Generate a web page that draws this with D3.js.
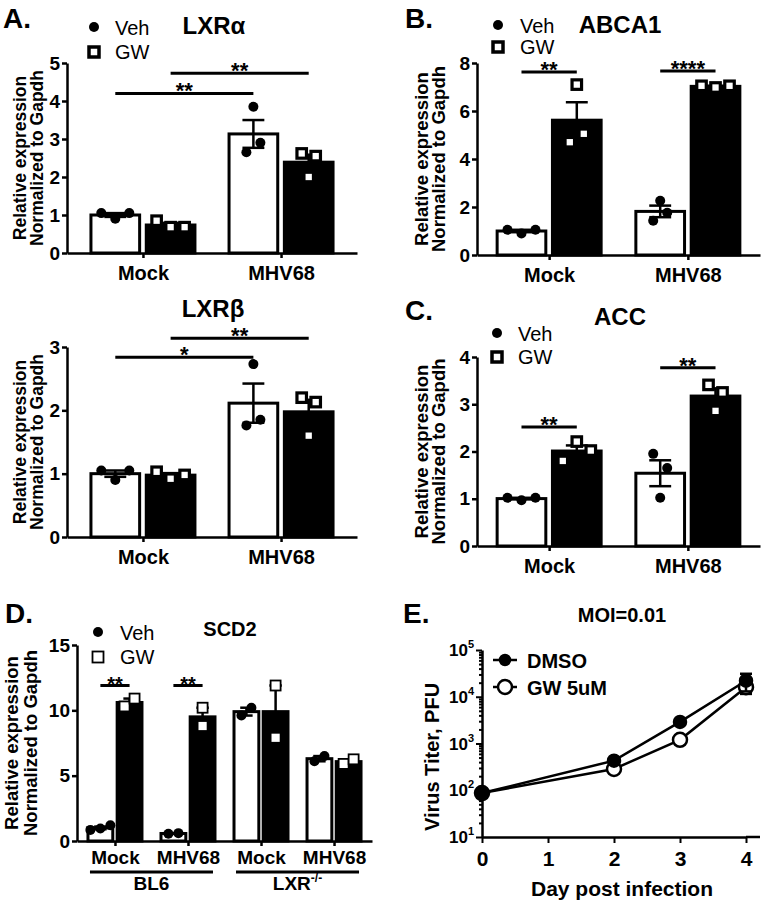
<!DOCTYPE html>
<html><head><meta charset="utf-8">
<script src="https://cdn.jsdelivr.net/npm/d3@7"></script>
<style>
body{margin:0;background:#fff}
svg{display:block}
text{font-family:"Liberation Sans",Arial,Helvetica,sans-serif;fill:#000}
</style>
</head><body>
<svg id="c" width="766" height="903"></svg>
<script>
// ---------------- DATA ----------------
const treatments = ["Veh", "GW"];
const groupLabels = ["Mock", "MHV68"];

// A. LXRα  (individual points per group: Mock, MHV68)
const lxraVeh = [[1.05, 0.9, 1.05], [3.85, 2.65, 2.9]];
const lxraGw  = [[0.85, 0.68, 0.68], [2.62, 2.55, 2.0]];
const lxraTicks = [0, 1, 2, 3, 4, 5];
const lxraSig = [
  {g1: 0, t1: "Veh", g2: 1, t2: "Veh", y: 4.2, label: "**"},
  {g1: 0, t1: "GW",  g2: 1, t2: "GW",  y: 4.73, label: "**"}
];

// LXRβ
const lxrbVeh = [[1.05, 0.9, 1.05], [2.73, 1.76, 1.85]];
const lxrbGw  = [[1.03, 0.92, 0.98], [2.2, 2.13, 1.6]];
const lxrbTicks = [0, 1, 2, 3];
const lxrbSig = [
  {g1: 0, t1: "Veh", g2: 1, t2: "Veh", y: 2.84, label: "*"},
  {g1: 0, t1: "GW",  g2: 1, t2: "GW",  y: 3.14, label: "**"}
];

// B. ABCA1
const abcaVeh = [[1.05, 0.9, 1.05], [2.26, 1.43, 1.76]];
const abcaGw  = [[7.1, 4.7, 5.05], [7.05, 6.98, 7.05]];
const abcaTicks = [0, 2, 4, 6, 8];
const abcaSig = [
  {g1: 0, t1: "Veh", g2: 0, t2: "GW", y: 7.63, label: "**"},
  {g1: 1, t1: "Veh", g2: 1, t2: "GW", y: 7.67, label: "****"}
];

// C. ACC
const accVeh = [[1.02, 0.97, 1.02], [1.95, 1.65, 1.02]];
const accGw  = [[1.8, 2.21, 2.02], [3.41, 3.25, 2.86]];
const accTicks = [0, 1, 2, 3, 4];
const accSig = [
  {g1: 0, t1: "Veh", g2: 0, t2: "GW", y: 2.52, label: "**"},
  {g1: 1, t1: "Veh", g2: 1, t2: "GW", y: 3.77, label: "**"}
];

// D. SCD2
const scd2Labels = ["Mock", "MHV68", "Mock", "MHV68"];
const scd2Strains = ["BL6", "LXR"];
const scd2Veh = [[0.85, 0.95, 1.2], [0.55, 0.6], [9.6, 10.2], [6.1, 6.5]];
const scd2Gw  = [[10.3, 10.9], [10.2, 8.8], [11.9, 7.9], [5.9, 6.25]];
const scd2Ticks = [0, 5, 10, 15];
const scd2Sig = [
  {g1: 0, t1: "Veh", g2: 0, t2: "GW", y: 11.9, label: "**"},
  {g1: 1, t1: "Veh", g2: 1, t2: "GW", y: 11.9, label: "**"}
];

// E. Virus titer
const days = [0, 2, 3, 4];
const dmsoTiter = [87, 430, 2900, 22000];
const dmsoSem   = [0, 0, 0, 9000];
const gwTiter   = [87, 285, 1200, 16000];
const gwSem     = [0, 0, 0, 4500];
const eYTicks = [1e1, 1e2, 1e3, 1e4, 1e5];
const eXTicks = [0, 1, 2, 3, 4];

// ---------------- DRAW ----------------
const svg = d3.select("#c");
const FONT = '"Liberation Sans",Arial,Helvetica,sans-serif';

function jitter(vals, y, thresh, step) {
  const idx = vals.map((v, i) => i).sort((a, b) => vals[a] - vals[b]);
  const clusters = []; let cur = [idx[0]];
  for (let k = 1; k < idx.length; k++) {
    if (Math.abs(y(vals[idx[k]]) - y(vals[idx[k - 1]])) < thresh) cur.push(idx[k]);
    else { clusters.push(cur); cur = [idx[k]]; }
  }
  clusters.push(cur);
  const off = vals.map(() => 0);
  clusters.forEach(c => { c.sort((a, b) => a - b); c.forEach((i, j) => off[i] = (j - (c.length - 1) / 2) * step); });
  return off;
}

function barPanel(o) {
  const g = svg.append("g");
  const y = d3.scaleLinear().domain([0, o.yMax]).range([o.y0, o.yTop]);
  const xg = d3.scalePoint().domain(d3.range(o.labels.length)).range([o.xL, o.xR]).padding(o.pad);
  const xt = d3.scaleBand().domain(treatments).range([-o.half, o.half]).paddingInner(o.inner);
  const bw = xt.bandwidth();
  const items = [];
  [["Veh", o.veh], ["GW", o.gw]].forEach(([t, arr]) => arr.forEach((pts, gi) => {
    const m = d3.mean(pts);
    const sem = d3.deviation(pts) / Math.sqrt(pts.length);
    items.push({t, gi, pts, m, sem, cx: xg(gi) + xt(t) + bw / 2});
  }));
  items.forEach(d => {
    g.append("rect").attr("x", d.cx - bw / 2).attr("y", y(d.m)).attr("width", bw)
      .attr("height", y(0) - y(d.m))
      .attr("fill", d.t === "Veh" ? "#fff" : "#000").attr("stroke", "#000").attr("stroke-width", o.barStroke);
  });
  items.forEach(d => {
    const cw = bw * o.cap;
    g.append("line").attr("x1", d.cx).attr("x2", d.cx).attr("y1", y(d.m - d.sem)).attr("y2", y(d.m + d.sem))
      .attr("stroke", "#000").attr("stroke-width", 2.5);
    [d.m - d.sem, d.m + d.sem].forEach(v => g.append("line").attr("x1", d.cx - cw / 2).attr("x2", d.cx + cw / 2)
      .attr("y1", y(v)).attr("y2", y(v)).attr("stroke", "#000").attr("stroke-width", 2.5));
  });
  items.forEach(d => {
    const off = jitter(d.pts, y, o.thresh, o.step);
    d.pts.forEach((v, i) => {
      if (d.t === "Veh") {
        g.append("circle").attr("cx", d.cx + off[i]).attr("cy", y(v)).attr("r", o.r).attr("fill", "#000");
      } else {
        g.append("rect").attr("x", d.cx + off[i] - o.sq / 2).attr("y", y(v) - o.sq / 2)
          .attr("width", o.sq).attr("height", o.sq).attr("fill", "#fff")
          .attr("stroke", "#000").attr("stroke-width", o.sqStroke);
      }
    });
  });
  const ya = g.append("g").attr("transform", `translate(${o.xL},0)`)
    .call(d3.axisLeft(y).tickValues(o.ticks).tickSize(5).tickSizeOuter(0).tickPadding(2).tickFormat(d3.format("d")));
  const xa = g.append("g").attr("transform", `translate(0,${o.y0})`)
    .call(d3.axisBottom(xg).tickSize(5).tickSizeOuter(0).tickPadding(o.xPad).tickFormat(i => o.labels[i]));
  [ya, xa].forEach(a => {
    a.select(".domain").attr("stroke-width", 2.5).attr("stroke", "#000");
    a.selectAll(".tick line").attr("stroke-width", 2.5).attr("stroke", "#000");
    a.selectAll("text").attr("font-family", FONT).attr("font-weight", "bold").attr("fill", "#000");
  });
  ya.selectAll("text").attr("font-size", o.tickFont);
  xa.selectAll("text").attr("font-size", o.xFont);
  const cy = (o.y0 + o.yTop) / 2;
  [["Relative expression", o.lab1], ["Normalized to Gapdh", o.lab2]].forEach(([s, x]) =>
    g.append("text").attr("transform", `translate(${x},${cy}) rotate(-90)`)
      .attr("text-anchor", "middle").attr("font-weight", "bold").attr("font-size", o.labFont).text(s));
  o.sig.forEach(s => {
    const x1 = xg(s.g1) + xt(s.t1) + bw / 2, x2 = xg(s.g2) + xt(s.t2) + bw / 2;
    g.append("line").attr("x1", x1).attr("x2", x2)
      .attr("y1", y(s.y)).attr("y2", y(s.y)).attr("stroke", "#000").attr("stroke-width", 3);
    g.append("text").attr("x", (x1 + x2) / 2).attr("y", y(s.y) + 5)
      .attr("text-anchor", "middle").attr("font-weight", "bold").attr("font-size", o.starFont).text(s.label);
  });
  g.append("text").attr("x", o.titleX).attr("y", o.titleY).attr("text-anchor", "middle")
    .attr("font-weight", "bold").attr("font-size", o.titleFont).text(o.title);
  if (o.letter) g.append("text").attr("x", o.letterX).attr("y", o.letterY).attr("font-weight", "bold")
    .attr("font-size", 28).text(o.letter);
  if (o.leg) {
    const L = o.leg;
    g.append("circle").attr("cx", L.x).attr("cy", L.y1).attr("r", L.r).attr("fill", "#000");
    g.append("rect").attr("x", L.x - L.sq / 2).attr("y", L.y2 - L.sq / 2).attr("width", L.sq).attr("height", L.sq)
      .attr("fill", "#fff").attr("stroke", "#000").attr("stroke-width", L.sw);
    g.append("text").attr("x", L.tx).attr("y", L.y1 + 8).attr("font-size", L.font).text("Veh");
    g.append("text").attr("x", L.tx).attr("y", L.y2 + 7).attr("font-size", L.font).text("GW");
  }
  return {g, y, xg, xt};
}

const common = {labels: groupLabels, pad: 0.55, half: 52, inner: 0.12, barStroke: 3, cap: 0.45,
  r: 5, sq: 9.5, sqStroke: 3.2, thresh: 11, step: 14, tickFont: 19, xFont: 20, labFont: 17.5, starFont: 22,
  titleFont: 24, xPad: 8};

barPanel(Object.assign({}, common, {
  veh: lxraVeh, gw: lxraGw, ticks: lxraTicks, sig: lxraSig, yMax: 5,
  xL: 67, xR: 357, y0: 253, yTop: 63, lab1: 26, lab2: 43,
  title: "LXRα", titleX: 214, titleY: 34, letter: "A.", letterX: 3, letterY: 28,
  leg: {x: 94, y1: 27, y2: 52, r: 5, sq: 10, sw: 3.5, tx: 115, font: 20}
}));
barPanel(Object.assign({}, common, {
  veh: lxrbVeh, gw: lxrbGw, ticks: lxrbTicks, sig: lxrbSig, yMax: 3,
  xL: 67, xR: 357, y0: 537, yTop: 347, lab1: 26, lab2: 43,
  title: "LXRβ", titleX: 213, titleY: 317, letter: ""
}));
barPanel(Object.assign({}, common, {
  veh: abcaVeh, gw: abcaGw, ticks: abcaTicks, sig: abcaSig, yMax: 8, pad: 0.52,
  xL: 477, xR: 760, y0: 255, yTop: 63, lab1: 428, lab2: 445, labFont: 18.5,
  title: "ABCA1", titleX: 620, titleY: 33, letter: "B.", letterX: 405, letterY: 28,
  leg: {x: 498, y1: 25, y2: 47, r: 5, sq: 10, sw: 3.5, tx: 520, font: 20}
}));
barPanel(Object.assign({}, common, {
  veh: accVeh, gw: accGw, ticks: accTicks, sig: accSig, yMax: 4, pad: 0.52, thresh: 15,
  xL: 477, xR: 760, y0: 546, yTop: 357, lab1: 428, lab2: 445, labFont: 18.5,
  title: "ACC", titleX: 620, titleY: 325, letter: "C.", letterX: 405, letterY: 320,
  leg: {x: 497, y1: 333, y2: 357, r: 5, sq: 10, sw: 3.5, tx: 518, font: 20}
}));
const dP = barPanel(Object.assign({}, common, {
  labels: scd2Labels, veh: scd2Veh, gw: scd2Gw, ticks: scd2Ticks, sig: scd2Sig, yMax: 15, pad: 0.52,
  half: 27, inner: 0.15, cap: 0.5, r: 5, sq: 10, sqStroke: 1.8, thresh: 11, step: 10, starFont: 20,
  xL: 77, xR: 372, y0: 841, yTop: 645, lab1: 18, lab2: 37, labFont: 18.5, xPad: 4.5, xFont: 19,
  title: "SCD2", titleX: 230, titleY: 636, titleFont: 20, letter: "D.", letterX: 5, letterY: 623,
  leg: {x: 98, y1: 632, y2: 657, r: 5, sq: 11, sw: 1.8, tx: 120, font: 20}
}));
scd2Strains.forEach((s, k) => {
  const xa = dP.xg(2 * k) - 25, xb = dP.xg(2 * k + 1) + 25;
  dP.g.append("line").attr("x1", xa).attr("x2", xb).attr("y1", 872).attr("y2", 872)
    .attr("stroke", "#000").attr("stroke-width", 3);
  const t = dP.g.append("text").attr("x", (xa + xb) / 2).attr("y", 890).attr("text-anchor", "middle")
    .attr("font-weight", "bold").attr("font-size", 19);
  t.append("tspan").text(s);
  if (s === "LXR") t.append("tspan").attr("font-size", 12).attr("dy", -8).text("-/-");
});

(function () {
  const g = svg.append("g");
  const x = d3.scaleLinear().domain([0, 4]).range([482, 746]);
  const y = d3.scaleLog().domain([10, 1e5]).range([837, 650]);
  const ya = g.append("g").attr("transform", "translate(482,0)")
    .call(d3.axisLeft(y).tickValues(y.ticks()).tickSize(3).tickSizeOuter(0).tickFormat(""));
  ya.selectAll(".tick").filter(d => eYTicks.includes(d)).select("line").attr("x2", -6);
  const xa = g.append("g").attr("transform", "translate(0,837)")
    .call(d3.axisBottom(x).tickValues(eXTicks).tickSize(6).tickSizeOuter(0).tickPadding(8).tickFormat(d3.format("d")));
  g.append("line").attr("x1", 746).attr("x2", 760).attr("y1", 837).attr("y2", 837).attr("stroke", "#000").attr("stroke-width", 2.5);
  [ya, xa].forEach(a => {
    a.select(".domain").attr("stroke-width", 2.5).attr("stroke", "#000");
    a.selectAll(".tick line").attr("stroke-width", 2).attr("stroke", "#000");
  });
  xa.selectAll("text").attr("font-family", FONT).attr("font-weight", "bold").attr("font-size", 21).attr("fill", "#000");
  eYTicks.forEach(v => {
    const t = g.append("text").attr("x", 474).attr("y", y(v) + 6).attr("text-anchor", "end")
      .attr("font-weight", "bold").attr("font-size", 17);
    t.append("tspan").text("10");
    t.append("tspan").attr("font-size", 11).attr("dy", -8).text(Math.log10(v));
  });
  const line = d3.line().x((d, i) => x(days[i])).y(d => y(d));
  const series = [
    {vals: gwTiter, sem: gwSem, fill: "#fff", r: 7},
    {vals: dmsoTiter, sem: dmsoSem, fill: "#000", r: 6}
  ];
  series.forEach(s => g.append("path").attr("d", line(s.vals)).attr("fill", "none")
    .attr("stroke", "#000").attr("stroke-width", 2.5));
  series.forEach(s => {
    s.vals.forEach((v, i) => {
      if (s.sem[i] > 0) {
        const lo = v - s.sem[i], hi = v + s.sem[i];
        g.append("line").attr("x1", x(days[i])).attr("x2", x(days[i])).attr("y1", y(lo)).attr("y2", y(hi))
          .attr("stroke", "#000").attr("stroke-width", 2.5);
        [lo, hi].forEach(w => g.append("line").attr("x1", x(days[i]) - 6).attr("x2", x(days[i]) + 6)
          .attr("y1", y(w)).attr("y2", y(w)).attr("stroke", "#000").attr("stroke-width", 2.5));
      }
      g.append("circle").attr("cx", x(days[i])).attr("cy", y(v)).attr("r", s.r)
        .attr("fill", s.fill).attr("stroke", "#000").attr("stroke-width", 2.5);
    });
  });
  [["DMSO", 660, "#000", 5], ["GW 5uM", 687, "#fff", 7]].forEach(([lab, ly, f, r]) => {
    g.append("line").attr("x1", 493).attr("x2", 517).attr("y1", ly).attr("y2", ly).attr("stroke", "#000").attr("stroke-width", 2.5);
    g.append("circle").attr("cx", 505).attr("cy", ly).attr("r", r).attr("fill", f).attr("stroke", "#000").attr("stroke-width", 2.5);
    g.append("text").attr("x", 527).attr("y", ly + 7.5).attr("font-weight", "bold").attr("font-size", 20).text(lab);
  });
  g.append("text").attr("x", 622).attr("y", 622).attr("text-anchor", "middle").attr("font-weight", "bold")
    .attr("font-size", 20).text("MOI=0.01");
  g.append("text").attr("x", 403).attr("y", 623).attr("font-weight", "bold").attr("font-size", 28).text("E.");
  g.append("text").attr("x", 622).attr("y", 896).attr("text-anchor", "middle").attr("font-weight", "bold")
    .attr("font-size", 21).text("Day post infection");
  g.append("text").attr("transform", "translate(439,757) rotate(-90)").attr("text-anchor", "middle")
    .attr("font-weight", "bold").attr("font-size", 20).text("Virus Titer, PFU");
})();
</script>
</body></html>
